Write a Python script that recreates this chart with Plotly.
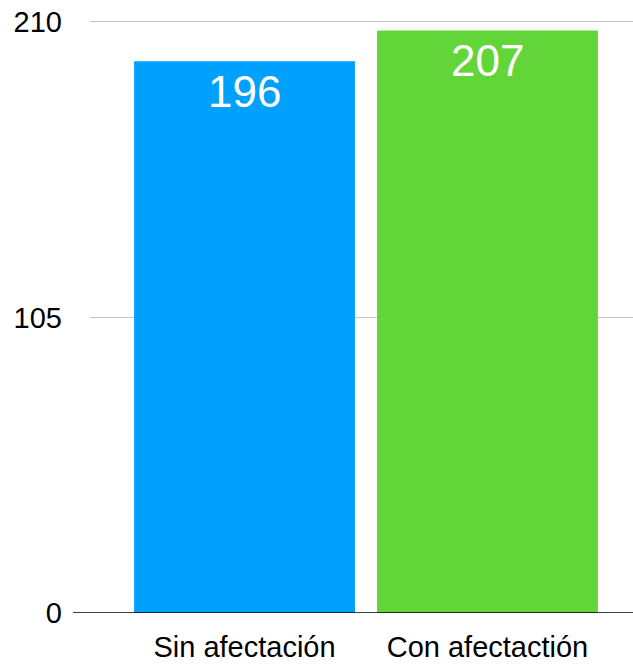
import plotly.graph_objects as go

categories = ["Sin afectación", "Con afectactión"]
values = [196, 207]
bar_colors = ["#00A0FF", "#62D539"]
y_ticks = [0, 105, 210]

FONT = "Liberation Sans, Arial, Helvetica, sans-serif"

fig = go.Figure(
    go.Bar(
        x=categories,
        y=values,
        marker=dict(color=bar_colors, line=dict(width=0)),
        width=0.909,
        hoverinfo="skip",
    )
)

# value labels placed just inside the top of each bar
for cat, val in zip(categories, values):
    fig.add_annotation(
        x=cat, y=val, xref="x", yref="y",
        text=str(val), showarrow=False,
        yanchor="top", yshift=-4,
        font=dict(family=FONT, size=44, color="white"),
    )

# black baseline extending slightly left of the plot area
fig.add_shape(
    type="line", xref="paper", yref="y",
    x0=-17 / 543, x1=1, y0=0, y1=0,
    line=dict(color="black", width=1.5), layer="above",
)

fig.update_layout(
    width=633, height=665,
    margin=dict(l=90, r=0, t=20, b=52),
    paper_bgcolor="white", plot_bgcolor="white",
    showlegend=False,
    font=dict(family=FONT, color="black"),
    xaxis=dict(
        type="category",
        range=[-0.636, 1.599],
        showgrid=False, zeroline=False, showline=False,
        ticks="", tickfont=dict(size=29, color="black"),
        ticklabelstandoff=14,
    ),
    yaxis=dict(
        range=[0, 210.7],
        tickvals=y_ticks,
        ticktext=[str(v) for v in y_ticks],
        showgrid=True, gridcolor="#c6c6c6", gridwidth=1,
        zeroline=False, showline=False,
        ticks="", tickfont=dict(size=29, color="black"),
        ticklabelstandoff=27,
    ),
)

fig.write_html("out.html")
